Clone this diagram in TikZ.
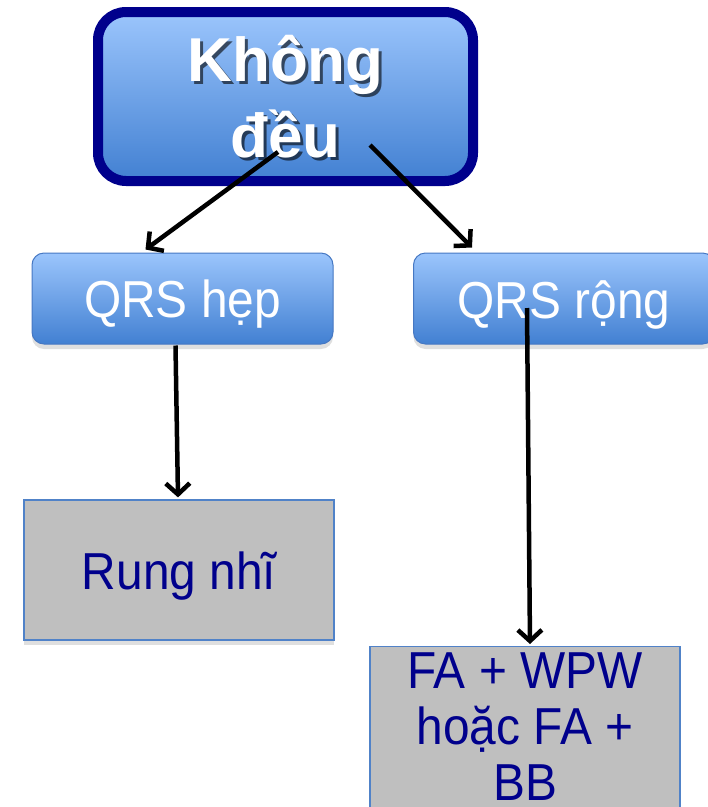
\documentclass[tikz,border=0pt]{standalone}
\usepackage{fontspec}
\setmainfont{Liberation Sans}
\usetikzlibrary{arrows.meta,shadows,calc}
\definecolor{navy}{RGB}{0,0,140}
\definecolor{boxtop}{RGB}{155,197,252}
\definecolor{boxbot}{RGB}{66,128,210}
\definecolor{boxedge}{RGB}{70,120,195}
\definecolor{greyfill}{RGB}{191,191,191}
\definecolor{greyedge}{RGB}{80,130,200}
% slightly condensed label text, shifted up by the given amount (box size kept)
\newcommand{\narrow}[2]{\raisebox{#1}[\height][\depth]{\scalebox{0.92}[1]{#2}}}
\tikzset{
  headbox/.style={rounded corners=28pt, draw=navy, line width=10pt,
    top color=boxtop, bottom color=boxbot, minimum width=375pt, minimum height=169pt,
    inner sep=0pt},
  headtext/.style={align=center, font=\fontsize{62}{76}\selectfont\bfseries},
  qrsbox/.style={rounded corners=12pt, draw=boxedge, line width=1pt,
    top color=boxtop, bottom color=boxbot, minimum width=301pt, minimum height=91pt,
    text=white, font=\fontsize{52}{58}\selectfont, inner sep=0pt,
    drop shadow={shadow xshift=0pt, shadow yshift=-5pt, opacity=0.25}},
  resultbox/.style={draw=greyedge, line width=1.2pt, fill=greyfill,
    minimum width=310pt, text=navy, align=center,
    font=\fontsize{52}{56}\selectfont, inner sep=0pt,
    drop shadow={shadow xshift=0pt, shadow yshift=-5pt, opacity=0.25}},
  arr/.style={line width=4.5pt, -{Straight Barb[length=11pt,width=24pt,line width=4.5pt]}},
}
\begin{document}
\begin{tikzpicture}[x=1pt,y=-1pt]
  \useasboundingbox (0,0) rectangle (708,807);
  % top decision box with shadowed bold title
  \node[headbox] (top) at (285.5,96.5) {};
  \node[headtext, text=black, opacity=0.6] (topshadow) at (288.5,99.5) {Không\\đều};
  \node[headtext, text=white] (toptext) at (285.5,96.5) {Không\\đều};
  % QRS width boxes
  \node[qrsbox] (hep) at (182.5,298.5) {\narrow{-6pt}{QRS hẹp}};
  \node[qrsbox, anchor=west] (rong) at (413,298.5) {\narrow{-6pt}{QRS rộng}};
  % outcome boxes
  \node[resultbox, minimum height=140pt] (rung) at (179,570) {\narrow{-6pt}{Rung nhĩ}};
  \node[resultbox, minimum height=175pt, anchor=north] (fa) at (525,646)
    {\narrow{7pt}{FA + WPW}\\\narrow{7pt}{hoặc FA +}\\\narrow{7pt}{BB}};
  % connectors
  \coordinate (s1) at (278,152);
  \coordinate (s2) at (370,145);
  \coordinate (s4) at (527,308);
  \draw[arr] (s1) -- ($(hep.north)+(-37,-3)$);
  \draw[arr] (s2) -- ($(rong.north west)+(59,-5)$);
  \draw[arr] ($(hep.south)+(-7,1)$) -- ($(rung.north)+(-1,-2)$);
  \draw[arr] (s4) -- ($(fa.north)+(5,-2)$);
\end{tikzpicture}
\end{document}
